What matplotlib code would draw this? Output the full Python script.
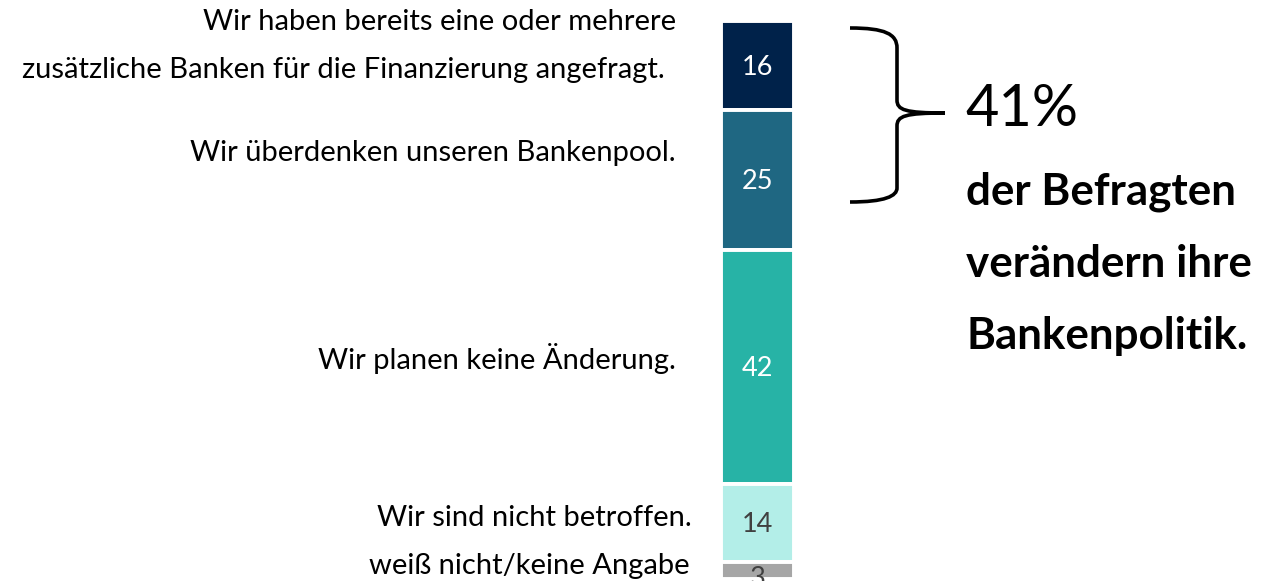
import matplotlib.pyplot as plt
from matplotlib.path import Path
from matplotlib.patches import PathPatch

plt.rcParams['font.family'] = ['Lato', 'DejaVu Sans']

# Daten
werte = [16, 25, 42, 14, 3]
labels = [
    "Wir haben bereits eine oder mehrere\nzusätzliche Banken für die Finanzierung angefragt.",
    "Wir überdenken unseren Bankenpool.",
    "Wir planen keine Änderung.",
    "Wir sind nicht betroffen.",
    "weiß nicht/keine Angabe",
]
farben = ['#00224A', '#1F6782', '#27B3A6', '#B3EEE8', '#A6A6A6']
zahl_farben = ['white', 'white', 'white', '#404040', '#404040']
summe_text = "41%"
summe_sub = ["der Befragten", "verändern ihre", "Bankenpolitik."]

W, H = 1262, 581
fig = plt.figure(figsize=(W / 100, H / 100), dpi=100)
ax = fig.add_axes([0, 2 / H, 1, 558 / H])
ax.set_xlim(0, W)
ax.set_ylim(100, 0)
ax.axis('off')

x_bar = 757.5
unten = 0
for w, f, zf in zip(werte, farben, zahl_farben):
    ax.bar(x_bar, w, bottom=unten, width=73, color=f, edgecolor='white', linewidth=2.8)
    ax.text(x_bar, unten + w / 2 + (0.3 if w > 5 else 1.4), str(w), ha='center', va='center',
            fontsize=19.5, color=zf)
    unten += w

# Beschriftungen links (Pixelpositionen der Abbildung)
label_pos = [(676, 22), (676, 153), (676, 358), (692, 518), (690, 566)]
for lab, (xp, yp) in zip(labels, label_pos):
    for k, zeile in enumerate(lab.split("\n")):
        xr = xp if k == 0 else xp - 11
        fig.text(xr / W, 1 - (yp + 48 * k) / H, zeile, ha='right', va='center',
                 fontsize=21, color='black')

# Klammer
def px(x, y):
    return (x / W, 1 - y / H)

pts = [px(850, 28), px(885, 28), px(897, 34), px(897, 48),
       px(897, 100),
       px(897, 110), px(905, 113), px(945, 113),
       px(905, 113), px(897, 116), px(897, 126),
       px(897, 188),
       px(897, 196), px(885, 202), px(850, 202)]
codes = [Path.MOVETO, Path.CURVE4, Path.CURVE4, Path.CURVE4,
         Path.LINETO,
         Path.CURVE4, Path.CURVE4, Path.CURVE4,
         Path.CURVE4, Path.CURVE4, Path.CURVE4,
         Path.LINETO,
         Path.CURVE4, Path.CURVE4, Path.CURVE4]
fig.patches.append(PathPatch(Path(pts, codes), transform=fig.transFigure,
                             facecolor='none', edgecolor='black', linewidth=2.6))

fig.text(965 / W, 1 - 110 / H, summe_text, ha='left', va='center', fontsize=41.5, color='black')
for i, t in enumerate(summe_sub):
    fig.text(966 / W, 1 - (192 + i * 72) / H, t, ha='left', va='center', fontsize=31.7,
             fontweight='bold', color='black')

fig.savefig('out.png', dpi=100)
